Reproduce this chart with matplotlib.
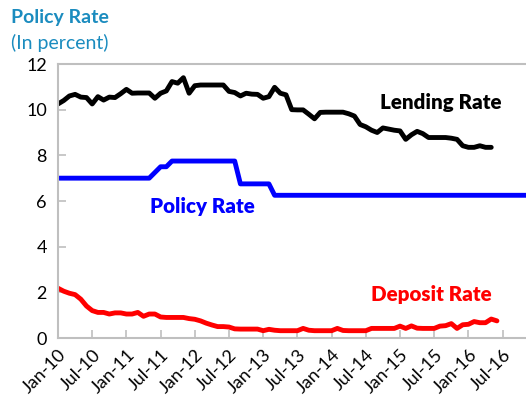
import numpy as np
import matplotlib
matplotlib.use('Agg')
import matplotlib.pyplot as plt

plt.rcParams['font.family'] = ['Lato', 'DejaVu Sans']

# monthly data, Jan 2010 onwards (index 0 = Jan-10)
lending = [10.25, 10.4, 10.6, 10.67, 10.55, 10.53, 10.25, 10.57, 10.42, 10.55,
           10.53, 10.7, 10.89, 10.72, 10.73, 10.73, 10.73, 10.5, 10.72, 10.82,
           11.23, 11.16, 11.4, 10.72, 11.05, 11.08, 11.08, 11.08, 11.08, 11.08,
           10.8, 10.75, 10.6, 10.72, 10.68, 10.67, 10.5, 10.57, 10.98, 10.72,
           10.65, 10.0, 9.99, 9.99, 9.8, 9.6, 9.88, 9.89, 9.89, 9.89,
           9.89, 9.82, 9.72, 9.35, 9.25, 9.1, 9.0, 9.2, 9.15, 9.1,
           9.07, 8.7, 8.9, 9.05, 8.95, 8.78, 8.78, 8.78, 8.78, 8.75,
           8.7, 8.42, 8.35, 8.35, 8.42, 8.35, 8.35]

policy = [7.0] * 17 + [7.25, 7.5, 7.5] + [7.75] * 12 + [6.75] * 6 + [6.25] * 47

deposit = [2.18, 2.05, 1.96, 1.9, 1.7, 1.4, 1.2, 1.12, 1.12, 1.05,
           1.1, 1.1, 1.05, 1.05, 1.12, 0.95, 1.05, 1.05, 0.92, 0.9,
           0.9, 0.9, 0.9, 0.85, 0.82, 0.75, 0.65, 0.57, 0.5, 0.5,
           0.48, 0.4, 0.39, 0.39, 0.39, 0.39, 0.32, 0.38, 0.34, 0.32,
           0.32, 0.32, 0.32, 0.42, 0.34, 0.32, 0.32, 0.32, 0.32, 0.42,
           0.33, 0.32, 0.32, 0.32, 0.32, 0.42, 0.42, 0.42, 0.42, 0.42,
           0.52, 0.42, 0.53, 0.43, 0.42, 0.42, 0.42, 0.52, 0.54, 0.63,
           0.42, 0.58, 0.6, 0.72, 0.67, 0.67, 0.83, 0.75]

tick_labels = ['Jan-10', 'Jul-10', 'Jan-11', 'Jul-11', 'Jan-12', 'Jul-12', 'Jan-13',
               'Jul-13', 'Jan-14', 'Jul-14', 'Jan-15', 'Jul-15', 'Jan-16', 'Jul-16']

W, H = 526, 411
fig = plt.figure(figsize=(W / 100, H / 100), dpi=100)
ax = fig.add_axes([58 / W, 73 / H, 1 - 58 / W, 274 / H])

ax.plot(np.arange(len(lending)), lending, color='black', lw=3.5, solid_capstyle='round')
ax.plot(np.arange(len(policy)), policy, color='#0000FF', lw=3.5)
ax.plot(np.arange(len(deposit)), deposit, color='#FF0000', lw=3.5, solid_capstyle='round')

ax.set_xlim(0, 82.1)
ax.set_ylim(0, 12)
ax.set_yticks(range(0, 13, 2))
ax.set_xticks(range(0, 6 * len(tick_labels), 6))
ax.set_xticklabels(tick_labels, rotation=45, ha='right', rotation_mode='anchor')
ax.tick_params(direction='in', length=6, width=1.2, color='#BFBFBF', labelsize=13)
ax.tick_params(axis='x', pad=6)
ax.tick_params(axis='y', pad=8)

for s in ['left', 'bottom', 'top']:
    ax.spines[s].set_color('#BFBFBF')
    ax.spines[s].set_linewidth(1.5)
ax.spines['right'].set_visible(False)


def px(x, y):
    # pixel position measured from top-left -> figure fraction
    return x / W, 1 - y / H


fig.text(*px(441, 102), 'Lending Rate', fontsize=14.8, fontweight='heavy',
         color='black', ha='center', va='center')
fig.text(*px(202, 206), 'Policy Rate', fontsize=14.8, fontweight='heavy',
         color='#0000FF', ha='center', va='center')
fig.text(*px(431, 294), 'Deposit Rate', fontsize=14.8, fontweight='heavy',
         color='#FF0000', ha='center', va='center')

fig.text(*px(11, 18), 'Policy Rate', fontsize=14, fontweight='bold',
         color='#1B8CBF', ha='left', va='center')
fig.text(*px(11, 43), '(In percent)', fontsize=14,
         color='#1B8CBF', ha='left', va='center')

fig.savefig('out.png', dpi=100)
